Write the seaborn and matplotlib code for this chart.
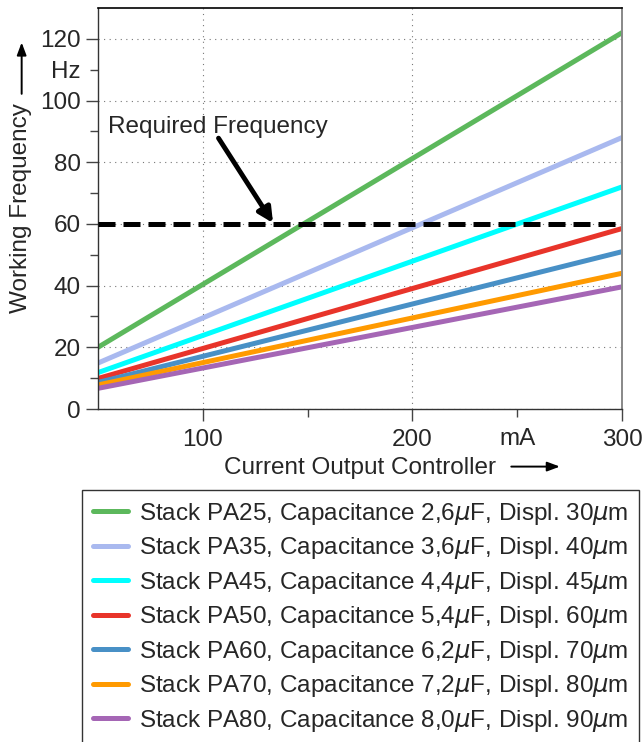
import numpy as np
import pandas as pd
import matplotlib
matplotlib.use("Agg")
import matplotlib.pyplot as plt
from matplotlib.ticker import FixedLocator, FixedFormatter
from matplotlib.text import OffsetFrom
import seaborn as sns

# ---- data ----
current_ma = [50, 300]
series_names = [
    "Stack PA25, Capacitance 2,6$\\mu$F, Displ. 30$\\mu$m",
    "Stack PA35, Capacitance 3,6$\\mu$F, Displ. 40$\\mu$m",
    "Stack PA45, Capacitance 4,4$\\mu$F, Displ. 45$\\mu$m",
    "Stack PA50, Capacitance 5,4$\\mu$F, Displ. 60$\\mu$m",
    "Stack PA60, Capacitance 6,2$\\mu$F, Displ. 70$\\mu$m",
    "Stack PA70, Capacitance 7,2$\\mu$F, Displ. 80$\\mu$m",
    "Stack PA80, Capacitance 8,0$\\mu$F, Displ. 90$\\mu$m",
]
pa25 = [20.0, 122.0]
pa35 = [14.9, 88.0]
pa45 = [11.8, 72.0]
pa50 = [9.9, 58.5]
pa60 = [8.6, 51.0]
pa70 = [7.8, 44.0]
pa80 = [6.7, 39.6]
required_freq = 60
colors = ["#5cb85c", "#a9b9ef", "#00ffff", "#e8342a", "#4890c6", "#ff9a00", "#a566b5"]

x_major = [100, 200, 300]
x_minor = [150, 250]
x_minor_labels = ["", "mA"]
y_major = [0, 20, 40, 60, 80, 100, 120]
y_minor = [10, 30, 50, 70, 90, 110]
y_minor_labels = ["", "", "", "", "", "Hz"]

all_vals = [pa25, pa35, pa45, pa50, pa60, pa70, pa80]
rows = []
for name, vals in zip(series_names, all_vals):
    for x, y in zip(current_ma, vals):
        rows.append({"Current": x, "Frequency": y, "Stack": name})
df = pd.DataFrame(rows)

sns.set_style("ticks")
plt.rcParams["font.family"] = ["Liberation Sans", "DejaVu Sans"]
plt.rcParams["mathtext.fontset"] = "custom"
plt.rcParams["mathtext.it"] = "DejaVu Sans:italic"

FS = 17.5

fig = plt.figure(figsize=(6.43, 7.42), dpi=100)
ax = fig.add_axes([98 / 643, 1 - 409 / 742, (622 - 98) / 643, (409 - 8) / 742])

sns.lineplot(data=df, x="Current", y="Frequency", hue="Stack", palette=colors,
             linewidth=3.6, ax=ax, legend=True)

ax.plot([current_ma[0], current_ma[-1]], [required_freq, required_freq],
        color="black", linewidth=3.6, linestyle=(0, (3.4, 1.6)), zorder=5)

ax.set_xlim(50, 300)
ax.set_ylim(0, 130)

ax.xaxis.set_major_locator(FixedLocator(x_major))
ax.xaxis.set_minor_locator(FixedLocator(x_minor))
ax.xaxis.set_minor_formatter(FixedFormatter(x_minor_labels))
ax.yaxis.set_major_locator(FixedLocator(y_major))
ax.yaxis.set_minor_locator(FixedLocator(y_minor))
ax.yaxis.set_minor_formatter(FixedFormatter(y_minor_labels))

ax.tick_params(which="major", direction="out", length=8.5, width=1, color="#444444",
               labelsize=FS, pad=4)
ax.tick_params(which="minor", direction="out", length=5.5, width=1, color="#444444",
               labelsize=FS, pad=7)
ax.tick_params(axis="x", which="major", pad=6)
ax.tick_params(axis="x", which="minor", pad=8.5)

ax.grid(which="major", linestyle=(0, (1, 4)), color="#777777", linewidth=0.8)

for side in ["left", "bottom"]:
    ax.spines[side].set_color("#333333")
    ax.spines[side].set_linewidth(1.0)
ax.spines["top"].set_color("black")
ax.spines["top"].set_linewidth(1.2)
ax.spines["right"].set_color("#888888")
ax.spines["right"].set_linewidth(1.4)
ax.spines["top"].set_visible(True)
ax.spines["right"].set_visible(True)

ax.set_xlabel("Current Output Controller", fontsize=FS, labelpad=4)
ax.set_ylabel("Working Frequency", fontsize=FS, labelpad=6)

# long arrows following the axis labels
arrow_style = dict(arrowstyle="-|>,head_length=0.75,head_width=0.28",
                   color="black", lw=1.4, shrinkA=0, shrinkB=0)
xo = OffsetFrom(ax.xaxis.label, (1.0, 0.55), unit="points")
ax.annotate("", xy=(46, 0), xycoords=xo, xytext=(11, 0), textcoords=xo,
            arrowprops=arrow_style, annotation_clip=False)
yo = OffsetFrom(ax.yaxis.label, (0.55, 1.0), unit="points")
ax.annotate("", xy=(0, 44), xycoords=yo, xytext=(0, 7), textcoords=yo,
            arrowprops=arrow_style, annotation_clip=False)

ax.text(54.8, 91.5, "Required Frequency", fontsize=FS, va="center", ha="left")
ax.annotate("", xy=(133.5, 60.3), xytext=(107.5, 87.8),
            arrowprops=dict(arrowstyle="-|>", color="black", lw=3.5,
                            mutation_scale=22, shrinkA=0, shrinkB=0), zorder=6)

handles, labels = ax.get_legend_handles_labels()
ax.legend_.remove()
leg = fig.legend(handles, labels, loc="upper left", bbox_to_anchor=(82 / 643, 1 - 490 / 742),
                 fontsize=FS, frameon=True, fancybox=False, edgecolor="black",
                 handlelength=1.45, handletextpad=0.45, labelspacing=0.35,
                 borderpad=0.45, borderaxespad=0)
leg.get_frame().set_linewidth(1.0)
for line in leg.get_lines():
    line.set_linewidth(3.6)

fig.savefig("out.png", dpi=100)
